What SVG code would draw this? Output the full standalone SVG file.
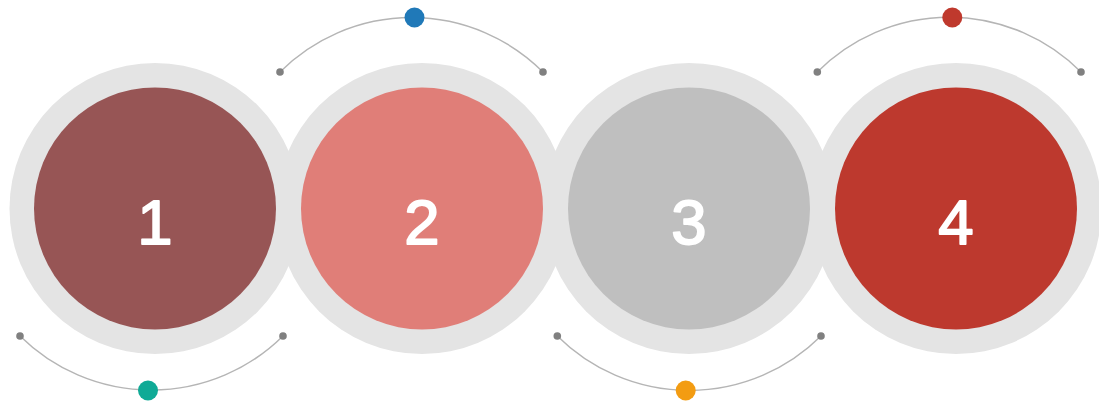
<svg xmlns="http://www.w3.org/2000/svg" width="1099" height="401" viewBox="0 0 1099 401">
<style>
.ring{fill:#e4e4e4}
.num{fill:#ffffff;stroke:#ffffff;stroke-width:1.8;stroke-linejoin:round;font-family:"Liberation Sans",Arial,sans-serif;font-size:63.5px;text-anchor:middle}
.arc{fill:none;stroke:#b5b5b5;stroke-width:1.5}
.end{fill:#808080}
</style>
<rect width="1099" height="401" fill="#ffffff"/>
<g id="connectors">
<path class="arc" d="M280,72 A186,186 0 0 1 543,72"/>
<path class="arc" d="M817.3,72 A186,186 0 0 1 1081,72"/>
<path class="arc" d="M20,336 A187,187 0 0 0 283,336"/>
<path class="arc" d="M557.3,336 A187,187 0 0 0 821,336"/>
<circle class="end" cx="280" cy="72" r="3.8"/>
<circle class="end" cx="543" cy="72" r="3.8"/>
<circle class="end" cx="817.3" cy="72" r="3.8"/>
<circle class="end" cx="1081" cy="72" r="3.8"/>
<circle class="end" cx="20" cy="336" r="3.8"/>
<circle class="end" cx="283" cy="336" r="3.8"/>
<circle class="end" cx="557.3" cy="336" r="3.8"/>
<circle class="end" cx="821" cy="336" r="3.8"/>
<circle cx="414.5" cy="17.5" r="10" fill="#2079b8"/>
<circle cx="952.3" cy="17.5" r="10" fill="#bf392d"/>
<circle cx="148" cy="390.5" r="10" fill="#10aa96"/>
<circle cx="685.7" cy="390.5" r="10" fill="#f39c12"/>
</g>
<g id="node1">
<circle class="ring" cx="155" cy="208.5" r="145.5"/>
<circle cx="155" cy="208.5" r="121" fill="#975555"/>
<text class="num" x="155" y="244">1</text>
</g>
<g id="node2">
<circle class="ring" cx="422" cy="208.5" r="145.5"/>
<circle cx="422" cy="208.5" r="121" fill="#e07e78"/>
<text class="num" x="422" y="244">2</text>
</g>
<g id="node3">
<circle class="ring" cx="689" cy="208.5" r="145.5"/>
<circle cx="689" cy="208.5" r="121" fill="#bfbfbf"/>
<text class="num" x="689" y="244">3</text>
</g>
<g id="node4">
<circle class="ring" cx="956" cy="208.5" r="145.5"/>
<circle cx="956" cy="208.5" r="121" fill="#bd392e"/>
<text class="num" x="956" y="244">4</text>
</g>
</svg>
